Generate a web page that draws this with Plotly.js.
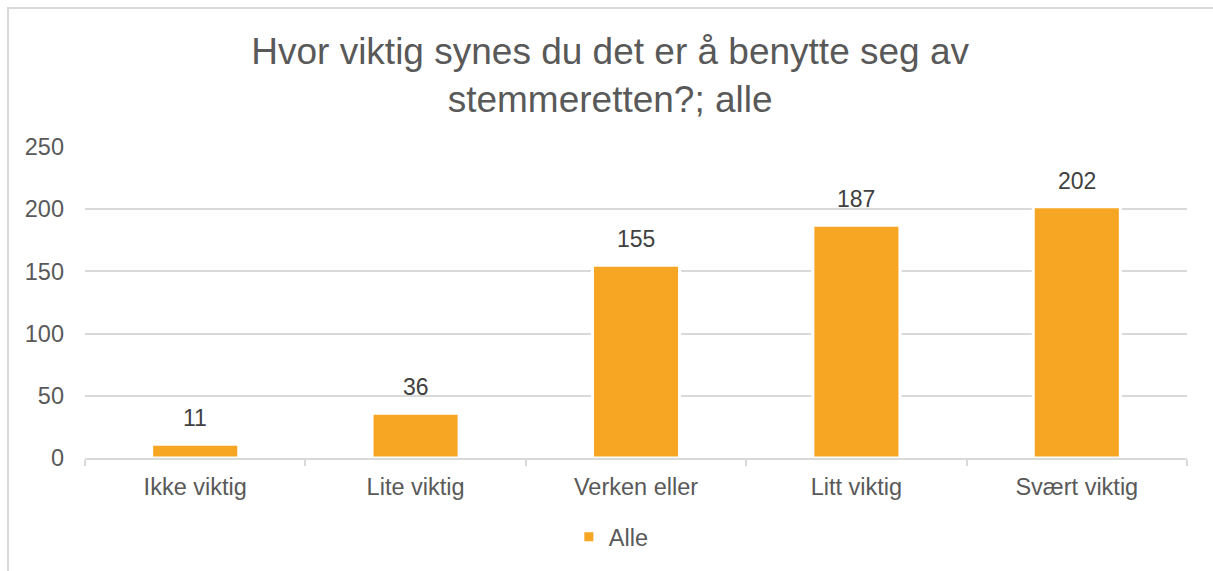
<!DOCTYPE html>
<html>
<head>
<meta charset="utf-8">
<script src="https://cdn.plot.ly/plotly-3.0.1.min.js"></script>
<style>
  html, body { margin: 0; padding: 0; background: #ffffff; }
  #frame { position: absolute; left: 7px; top: 7px; width: 1300px; height: 700px;
           border-left: 2px solid #d9d9d9; border-top: 2px solid #d9d9d9; box-sizing: border-box; }
  #chart { position: absolute; left: 0; top: 0; width: 1213px; height: 571px; }
</style>
</head>
<body>
<div id="frame"></div>
<div id="chart"></div>
<script>
const titleText = "Hvor viktig synes du det er å benytte seg av<br>stemmeretten?; alle";
const categories = ["Ikke viktig", "Lite viktig", "Verken eller", "Litt viktig", "Svært viktig"];
const values = [11, 36, 155, 187, 202];
const seriesName = "Alle";
const yTicks = [0, 50, 100, 150, 200, 250];

const textColor = "#595959";
const gridColor = "#d9d9d9";
const barColor = "#F6A623";
const fontFamily = "Liberation Sans, Arial, sans-serif";

const trace = {
  type: "bar",
  x: categories,
  y: values,
  name: seriesName,
  marker: { color: barColor, line: { color: "#ffffff", width: 3 } },
  hoverinfo: "none",
  showlegend: true
};

const annotations = categories.map((c, i) => ({
  x: c, y: values[i], xref: "x", yref: "y",
  text: String(values[i]), showarrow: false,
  yanchor: "bottom", yshift: 11,
  font: { family: fontFamily, size: 23, color: "#404040" }
}));

const layout = {
  width: 1213, height: 571,
  margin: { l: 85, r: 26, t: 147, b: 113 },
  paper_bgcolor: "rgba(0,0,0,0)",
  plot_bgcolor: "rgba(0,0,0,0)",
  font: { family: fontFamily, color: textColor },
  title: {
    text: titleText,
    font: { family: fontFamily, size: 37, color: textColor },
    x: 0.503, xref: "container", xanchor: "center",
    y: 1 - 64 / 571, yref: "container", yanchor: "middle"
  },
  bargap: 0.605,
  xaxis: {
    type: "category",
    showgrid: false,
    showline: true, linecolor: gridColor, linewidth: 2,
    ticks: "outside", tickson: "boundaries", ticklen: 6, tickcolor: gridColor, tickwidth: 2,
    tickfont: { family: fontFamily, size: 23.5, color: textColor },
    ticklabelstandoff: 7,
    fixedrange: true
  },
  yaxis: {
    range: [0, 250],
    tickvals: yTicks,
    showgrid: true, gridcolor: gridColor, gridwidth: 2,
    zeroline: false, showline: false, ticks: "",
    tickfont: { family: fontFamily, size: 23.5, color: textColor },
    ticklabelstandoff: 20,
    fixedrange: true
  },
  showlegend: true,
  legend: {
    orientation: "h",
    x: 0.504, xref: "container", xanchor: "center",
    y: 1 - 537 / 571, yref: "container", yanchor: "middle",
    font: { family: fontFamily, size: 23.5, color: textColor },
    itemwidth: 30
  },
  annotations: annotations
};

Plotly.newPlot("chart", [trace], layout, { displayModeBar: false, staticPlot: true });
</script>
</body>
</html>
